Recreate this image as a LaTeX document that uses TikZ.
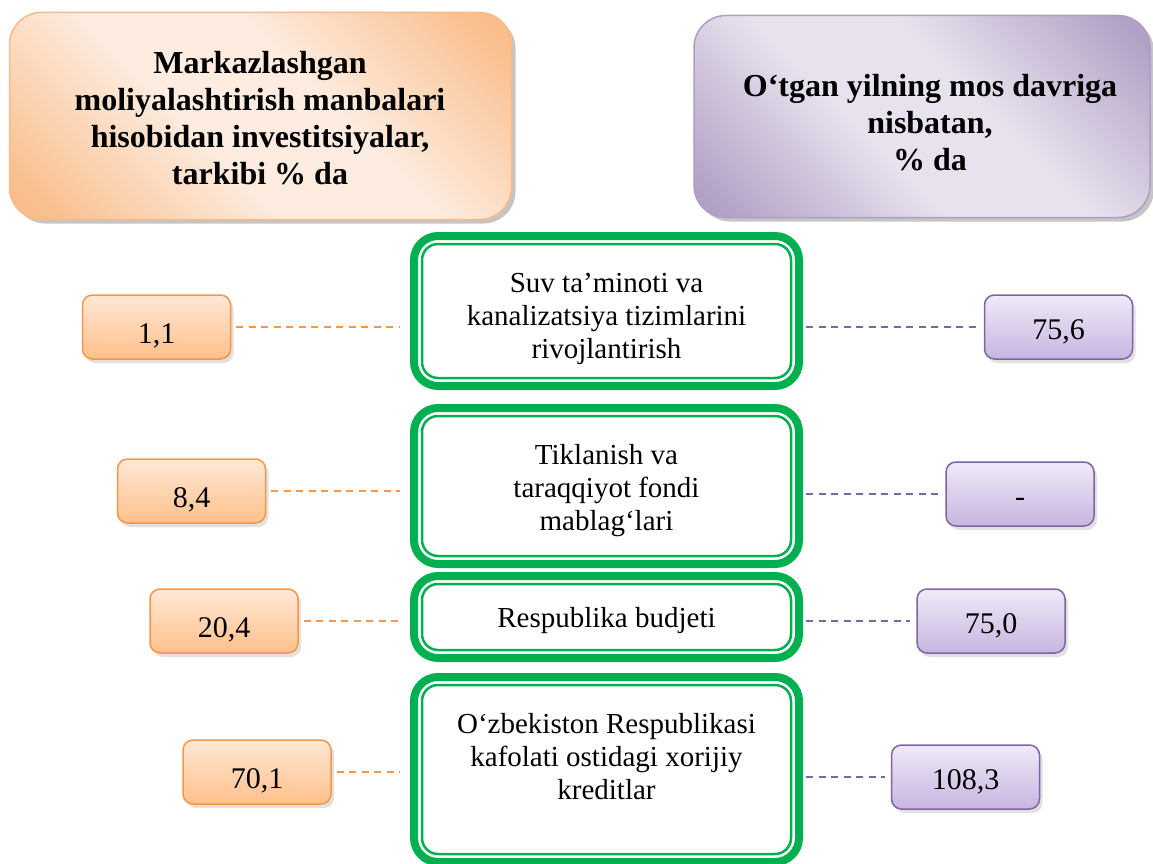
\documentclass[tikz,border=0pt]{standalone}
\usepackage{fontspec}
\setmainfont{Liberation Serif}
\usetikzlibrary{shadows,calc}
\definecolor{gr}{HTML}{00B050}
\definecolor{odsh}{HTML}{F79646}
\definecolor{pdsh}{HTML}{8064A2}
\definecolor{obord}{HTML}{F79646}
\definecolor{otop}{HTML}{FFE8D6}
\definecolor{obot}{HTML}{FFC08A}
\definecolor{pbord}{HTML}{8064A2}
\definecolor{ptop}{HTML}{EFEAF7}
\definecolor{pbot}{HTML}{C7B5E1}
\definecolor{ohdark}{HTML}{F9BE8C}
\definecolor{ohlight}{HTML}{FDECDF}
\definecolor{ohbord}{HTML}{F9BA85}
\definecolor{phdark}{HTML}{B2A1C6}
\definecolor{phlight}{HTML}{E8E2EE}
\definecolor{phbord}{HTML}{AF9DC5}
\definecolor{hshadow}{HTML}{8C8C8C}
\definecolor{vshadow}{HTML}{C4C4C4}
\pgfdeclarehorizontalshading{oband}{100bp}{color(0bp)=(ohdark); color(18bp)=(ohdark); color(42bp)=(ohlight); color(58bp)=(ohlight); color(82bp)=(ohdark); color(100bp)=(ohdark)}
\pgfdeclarehorizontalshading{pband}{100bp}{color(0bp)=(phdark); color(18bp)=(phdark); color(42bp)=(phlight); color(58bp)=(phlight); color(82bp)=(phdark); color(100bp)=(phdark)}
\begin{document}
\begin{tikzpicture}[x=1pt,y=-1pt,
  hdr/.style={rectangle, rounded corners=32pt, line width=1.5pt, inner sep=0pt,
    drop shadow={shadow xshift=4pt, shadow yshift=-4pt, fill=hshadow}},
  htxt/.style={align=center, font=\fontsize{32}{37}\selectfont\bfseries},
  gbox/.style={rectangle, draw=gr, line width=8pt, rounded corners=24pt, inner sep=0pt, outer sep=0pt, minimum width=385pt},
  ginner/.style={draw=gr, line width=2.5pt, rounded corners=16pt},
  gtxt/.style={align=center, font=\fontsize{29}{33}\selectfont},
  vbase/.style={rectangle, rounded corners=10pt, line width=1.5pt, inner sep=0pt,
    minimum width=148pt, minimum height=64pt, text depth=0pt,
    font=\fontsize{30}{34}\selectfont,
    drop shadow={shadow xshift=3pt, shadow yshift=-4pt, fill=vshadow}},
  ov/.style={vbase, draw=obord, top color=otop, bottom color=obot, text height=33pt},
  pv/.style={vbase, draw=pbord, top color=ptop, bottom color=pbot, text height=25pt},
  odash/.style={draw=odsh, line width=1.6pt, dash pattern=on 7pt off 5.5pt},
  pdash/.style={draw=pdsh, line width=1.6pt, dash pattern=on 7pt off 5.5pt}
]
\useasboundingbox (0,0) rectangle (1153,864);

% green boxes (node border = centre of the thick band)
\node[gbox, minimum height=150pt] (g1) at (606.5,311) {};
\node[gbox, minimum height=156pt] (g2) at (606.5,486) {};
\node[gbox, minimum height=82pt] (g3) at (606.5,617) {};
\node[gbox, minimum height=185pt] (g4) at (606.5,769.5) {};
\draw[ginner] ($(g1.north west)+(8,8)$) rectangle ($(g1.south east)+(-8,-8)$);
\draw[ginner] ($(g2.north west)+(8,8)$) rectangle ($(g2.south east)+(-8,-8)$);
\draw[ginner] ($(g3.north west)+(8,8)$) rectangle ($(g3.south east)+(-8,-8)$);
\draw[ginner] ($(g4.north west)+(8,8)$) rectangle ($(g4.south east)+(-8,-8)$);
\node[gtxt] (t1) at (606.5,319) {Suv ta’minoti va\\kanalizatsiya tizimlarini\\rivojlantirish};
\node[gtxt] (t2) at (606.5,491) {Tiklanish va\\taraqqiyot fondi\\mablag‘lari};
\node[gtxt] (t3) at (606.5,621) {Respublika budjeti};
\node[gtxt] (t4) at (606.5,757) {O‘zbekiston Respublikasi\\kafolati ostidagi xorijiy\\kreditlar};

% headers
\node[hdr, draw=ohbord, shading=oband, shading angle=45, minimum width=502pt, minimum height=207pt] (h1) at (260.5,116) {};
\node[htxt] (h1t) at (260,118) {Markazlashgan\\moliyalashtirish manbalari\\hisobidan investitsiyalar,\\tarkibi \% da};
\node[hdr, draw=phbord, shading=pband, shading angle=45, minimum width=456pt, minimum height=202pt] (h2) at (922,116.5) {};
\node[htxt] (h2t) at (930,123) {O‘tgan yilning mos davriga\\nisbatan,\\\% da};

% left values
\node[ov] (v1) at (156.5,327) {1,1};
\node[ov] (v2) at (191.5,491) {8,4};
\node[ov] (v3) at (224,621) {20,4};
\node[ov] (v4) at (257,772) {70,1};

% right values
\node[pv] (w1) at (1058.5,327) {75,6};
\node[pv] (w2) at (1020,494) {-};
\node[pv] (w3) at (991,621) {75,0};
\node[pv] (w4) at (965.5,777) {108,3};

% connectors
\draw[odash] ($(v1.east)+(5,0)$) -- ($(g1.west |- v1.east)+(-14,0)$);
\draw[odash] ($(v2.east)+(5,0)$) -- ($(g2.west |- v2.east)+(-14,0)$);
\draw[odash] ($(v3.east)+(5,0)$) -- ($(g3.west |- v3.east)+(-14,0)$);
\draw[odash] ($(v4.east)+(5,0)$) -- ($(g4.west |- v4.east)+(-14,0)$);
\draw[pdash] ($(g1.east |- w1.west)+(7,0)$) -- ($(w1.west)+(-6,0)$);
\draw[pdash] ($(g2.east |- w2.west)+(7,0)$) -- ($(w2.west)+(-6,0)$);
\draw[pdash] ($(g3.east |- w3.west)+(7,0)$) -- ($(w3.west)+(-6,0)$);
\draw[pdash] ($(g4.east |- w4.west)+(7,0)$) -- ($(w4.west)+(-6,0)$);
\end{tikzpicture}
\end{document}
